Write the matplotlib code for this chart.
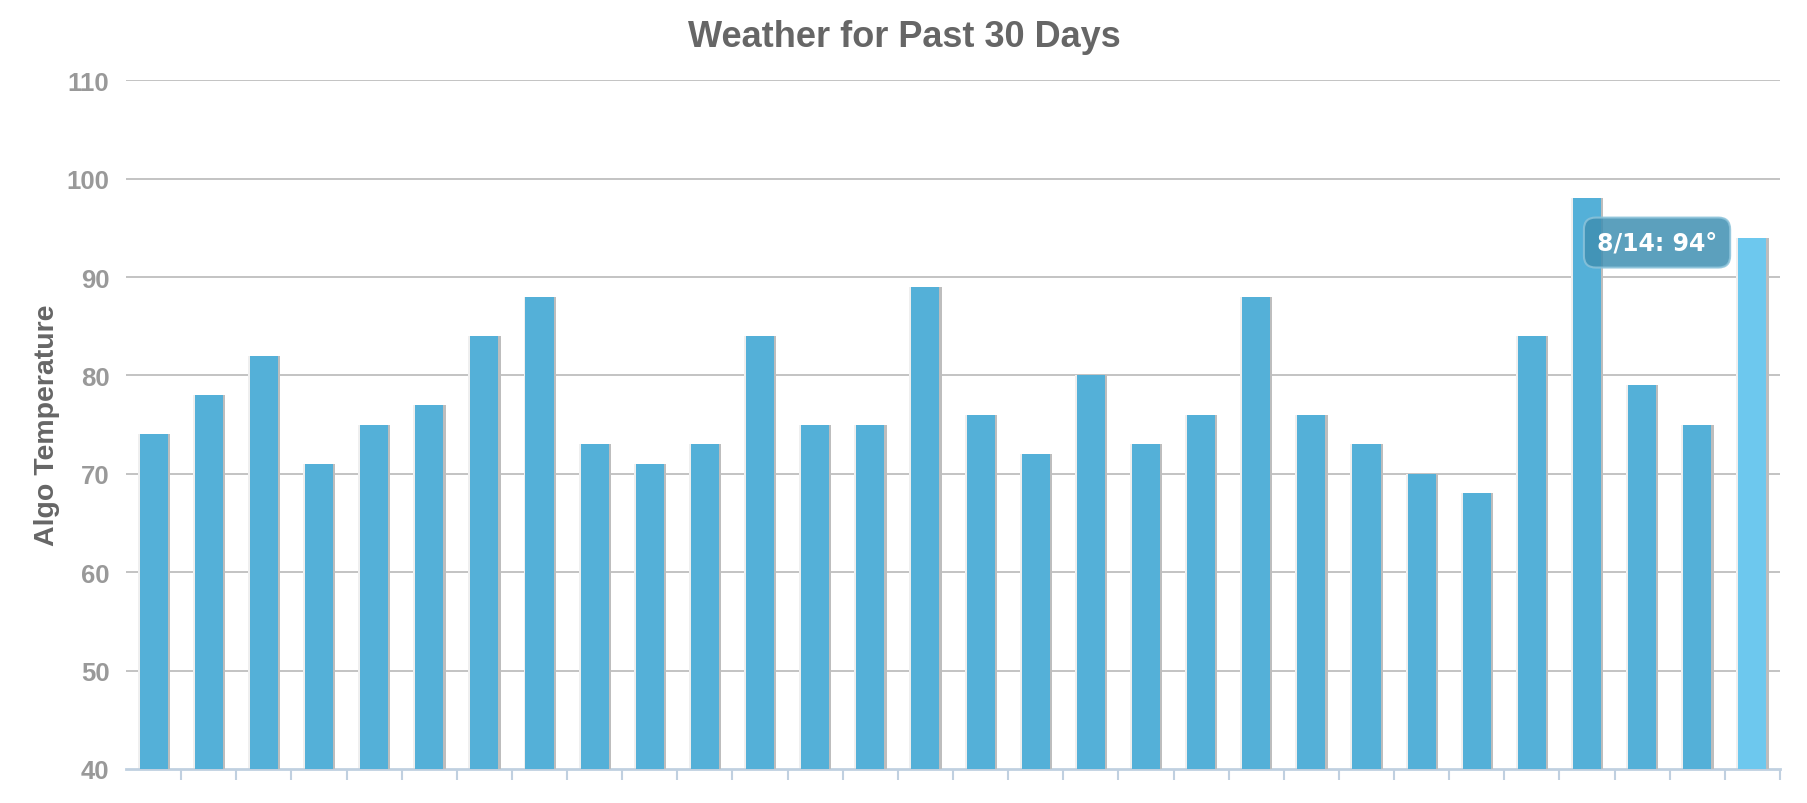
import matplotlib.pyplot as plt

# --- data
days = list(range(1, 31))
temps = [74, 78, 82, 71, 75, 77, 84, 88, 73, 71,
         73, 84, 75, 75, 89, 76, 72, 80, 73, 76,
         88, 76, 73, 70, 68, 84, 98, 79, 75, 94]
y_ticks = [40, 50, 60, 70, 80, 90, 100, 110]
tip_label = '8/14: 94\u00b0'

bar_col = '#54B0D8'
hover_col = '#6DC8EE'

fig = plt.figure(figsize=(18.08, 8.04), dpi=100)
ax = fig.add_axes([0.0697, 0.0423, 0.9148, 0.8567])

x = list(range(len(temps)))
cols = [bar_col] * (len(temps) - 1) + [hover_col]
base = y_ticks[0]
heights = [t - base for t in temps]

# soft halo + drop shadow behind each bar
ax.bar(x, heights, width=0.58, bottom=base, color='#EFEFEF', zorder=2)
ax.bar([i + 0.04 for i in x], heights, width=0.51, bottom=base, color='#BDBDBD', zorder=3)
ax.bar(x, heights, width=0.51, bottom=base, color=cols, zorder=4)

ax.set_xlim(-0.5, len(temps) - 0.5)
ax.set_ylim(y_ticks[0], y_ticks[-1])
ax.set_yticks(y_ticks)
ax.set_yticklabels([str(v) for v in y_ticks], fontsize=18.5, fontweight='bold',
                   color='#999999', family='Liberation Sans')
for v in y_ticks[1:]:
    ax.axhline(v, color='#BEBEBE', linewidth=1.3, zorder=1)

ax.set_xticks([i + 0.5 for i in x])
ax.set_xticklabels([])
ax.tick_params(axis='x', length=8, width=1.5, color='#C0D0E0')
ax.tick_params(axis='y', length=0, pad=12)
for s in ['top', 'right', 'left']:
    ax.spines[s].set_visible(False)
ax.spines['bottom'].set_color('#C0D0E0')
ax.spines['bottom'].set_linewidth(2)

ax.set_ylabel('Algo Temperature', fontsize=20.5, fontweight='bold', color='#666666',
              family='Liberation Sans', labelpad=5)
fig.suptitle('Weather for Past 30 Days', fontsize=26, fontweight='bold', color='#666666',
             family='Liberation Sans', y=0.975)

# hover tooltip on the last bar
last = len(temps) - 1
ax.text(last - 1.73, temps[-1] - 0.5, tip_label, ha='center', va='center', fontsize=17,
        fontweight='bold', color='white', family='DejaVu Sans', zorder=10,
        bbox=dict(boxstyle='round,pad=0.55,rounding_size=0.5', fc='#3F8FB2', ec='#8CC3DA',
                  alpha=0.85, lw=1.5))

plt.savefig('out.png', dpi=100)
